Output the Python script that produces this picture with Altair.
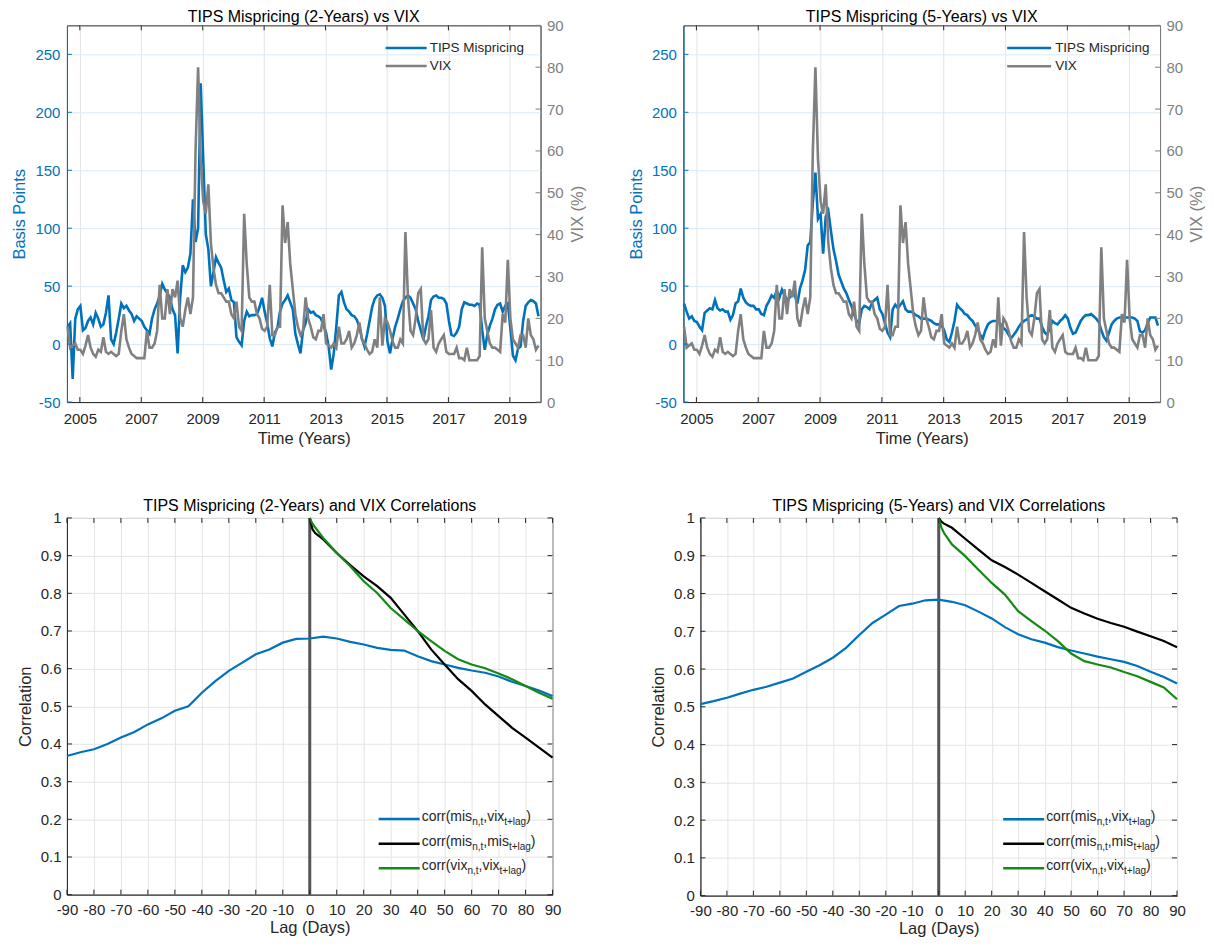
import altair as alt
import pandas as pd

FONT = "Liberation Sans"
BLUE = "#0072BD"
GRAY = "#808080"
BLACK = "#000000"
GREEN = "#148a14"
AXC = "#262626"
ZERO_LINE = "#555555"
GRID_GRAY = "#e4e4e4"
GRID_BLUE = "#d9eaf5"
TICK = 5

# ---------------- time series (monthly samples) ----------------
START_YEAR = 2004.6
YEAR_TICKS = [2005, 2007, 2009, 2011, 2013, 2015, 2017, 2019]
BP_TICKS = [-50, 0, 50, 100, 150, 200, 250]
VIX_TICKS = [0, 10, 20, 30, 40, 50, 60, 70, 80, 90]

MIS_2Y = [
    15, 18, -30, 22, 30,                                   # 2004 Aug-Dec
    33, 12, 14, 20, 23, 17, 27, 22, 15, 17, 27, 42,        # 2005
    4, 0, 10, 22, 35, 31, 33, 29, 26, 20, 24, 22,          # 2006
    20, 15, 12, 9, 22, 30, 35, 42, 52, 47, 44, 40,         # 2007
    30, 25, -8, 40, 68, 62, 66, 78, 125, 88, 100, 225,     # 2008
    160, 95, 82, 50, 62, 75, 70, 66, 55, 45, 48, 38,       # 2009
    36, 6, 2, -1, 20, 28, 24, 25, 25, 26, 32, 40,          # 2010
    28, 18, 5, -2, 10, 14, 28, 35, 38, 42, 36, 30,         # 2011
    9, 0, -8, 12, 18, 30, 27, 28, 25, 24, 22, 16,          # 2012
    10, -2, -22, -8, 15, 42, 45, 36, 30, 28, 25, 24,       # 2013
    21, 15, 5, -2, 8, 20, 32, 39, 42, 43, 40, 33,          # 2014
    2, -8, 5, 15, 22, 30, 37, 40, 42, 40, 35, 30,          # 2015
    20, 12, 4, 15, 24, 38, 41, 42, 40, 40, 39, 35,         # 2016
    20, 8, 7, 10, 15, 30, 36, 35, 34, 34, 33, 35,          # 2017
    34, 12, -5, 8, 16, 22, 30, 34, 35, 28, 33, 35,         # 2018
    14, -10, -14, -4, -2, 20, 33, 36, 38, 37, 35, 24,      # 2019
]

MIS_5Y = [
    35, 28, 22, 24, 20,                                    # 2004 Aug-Dec
    19, 15, 12, 27, 29, 31, 30, 38, 31, 29, 30, 28,        # 2005
    28, 21, 25, 35, 37, 48, 40, 36, 34, 33, 33, 30,        # 2006
    30, 26, 25, 33, 37, 42, 40, 46, 40, 47, 42, 38,        # 2007
    40, 44, 42, 35, 48, 55, 64, 85, 88, 122, 148, 108,     # 2008
    112, 78, 110, 115, 98, 82, 72, 60, 54, 48, 44, 38,     # 2009
    33, 26, 20, 18, 30, 33, 32, 30, 36, 38, 40, 30,        # 2010
    26, 18, 10, 6, 30, 34, 31, 34, 37, 30, 28, 28,         # 2011
    27, 25, 24, 22, 22, 22, 21, 20, 18, 17, 17, 16,        # 2012
    12, 4, 2, 10, 20, 34, 31, 29, 26, 25, 22, 20,          # 2013
    16, 13, 8, 5, 12, 17, 19, 20, 20, 19, 17, 14,          # 2014
    12, 8, 5, 8, 11, 15, 18, 20, 21, 24, 25, 24,           # 2015
    22, 22, 15, 10, 8, 14, 20, 18, 17, 20, 22, 25,         # 2016
    22, 14, 9, 10, 15, 20, 23, 25, 25, 26, 24, 22,         # 2017
    19, 12, 6, 3, 10, 17, 20, 22, 23, 23, 23, 23,          # 2018
    23, 23, 22, 20, 11, 10, 12, 18, 23, 23, 23, 16,        # 2019
]

VIX = [
    18, 13, 13.5, 14, 12.5,                                        # 2004 Aug-Dec
    12.5, 11.5, 13.5, 16, 13, 11.5, 10.8, 12.5, 12, 15.5, 12, 11.5,  # 2005
    12, 11.5, 11, 11.5, 17, 21, 15, 13, 11.5, 11, 10.5, 10.5,      # 2006
    10.5, 10.5, 17, 13, 13, 14, 17, 28, 20, 20, 27, 21,            # 2007
    27, 25, 29, 20, 18, 22, 25, 21, 25, 60, 80, 58,                # 2008
    48, 45, 52, 38, 32, 28, 26, 26, 25, 24, 24, 21,                # 2009
    20, 24, 18, 17, 45, 33, 25, 24, 24, 21, 20, 17.5,              # 2010
    17, 18, 28, 16, 16, 18, 18, 47, 38, 43, 33, 27,                # 2011
    21, 18, 16, 17, 25, 20, 18, 15.5, 15, 17, 17, 21,              # 2012
    14, 13.5, 13, 14, 13, 18, 14, 14, 15, 17, 13, 14,              # 2013
    16, 19, 15, 14, 12.5, 11.5, 12, 15, 13, 25, 13.5, 20,          # 2014
    19, 17, 14.5, 13, 13, 15, 14, 40.6, 25, 17, 16, 20,            # 2015
    26, 27, 15, 14, 15, 22, 13, 12, 14, 15, 16, 12,                # 2016
    11.5, 11.5, 11.5, 13, 10.5, 10.5, 10, 13, 10, 10, 10, 10,      # 2017
    11, 37, 20, 17, 14, 13, 13, 12.5, 12, 21, 19, 34,              # 2018
    20, 15, 14, 13, 16, 16, 13, 20, 16, 15, 12.5, 13.5,            # 2019
]

T = [round(START_YEAR + i / 12.0, 4) for i in range(len(VIX))]

# ---------------- correlations ----------------
LAGS_ALL = [-90, -85, -80, -75, -70, -65, -60, -55, -50, -45, -40, -35, -30, -25, -20, -15, -10, -5,
            0, 5, 10, 15, 20, 25, 30, 35, 40, 45, 50, 55, 60, 65, 70, 75, 80, 85, 90]
LAGS_POS = [0, 1, 2, 5, 10, 15, 20, 25, 30, 35, 40, 45, 50, 55, 60, 65, 70, 75, 80, 85, 90]
LAG_TICKS = [-90, -80, -70, -60, -50, -40, -30, -20, -10, 0, 10, 20, 30, 40, 50, 60, 70, 80, 90]
CORR_TICKS = [0, 0.1, 0.2, 0.3, 0.4, 0.5, 0.6, 0.7, 0.8, 0.9, 1]

C2_MIS_VIX = [0.368, 0.378, 0.386, 0.400, 0.417, 0.432, 0.452, 0.468, 0.488, 0.500, 0.536, 0.567, 0.594,
              0.616, 0.638, 0.651, 0.669, 0.679, 0.680, 0.685, 0.680, 0.671, 0.664, 0.655, 0.650, 0.648,
              0.633, 0.620, 0.611, 0.602, 0.595, 0.589, 0.579, 0.565, 0.554, 0.542, 0.527]
C2_MIS_MIS = [1.0, 0.97, 0.96, 0.943, 0.907, 0.875, 0.845, 0.819, 0.788, 0.744, 0.700, 0.651, 0.611,
              0.572, 0.541, 0.505, 0.474, 0.443, 0.417, 0.390, 0.364]
C2_VIX_VIX = [1.0, 0.985, 0.975, 0.947, 0.907, 0.872, 0.832, 0.801, 0.761, 0.731, 0.700, 0.673, 0.647,
              0.625, 0.611, 0.601, 0.587, 0.572, 0.554, 0.536, 0.520]

C5_MIS_VIX = [0.507, 0.515, 0.524, 0.535, 0.545, 0.553, 0.564, 0.575, 0.593, 0.610, 0.630, 0.656, 0.690,
              0.722, 0.744, 0.767, 0.773, 0.782, 0.784, 0.778, 0.769, 0.752, 0.734, 0.711, 0.692, 0.679,
              0.670, 0.658, 0.649, 0.641, 0.633, 0.626, 0.619, 0.608, 0.593, 0.579, 0.562]
C5_MIS_MIS = [1.0, 0.99, 0.985, 0.974, 0.945, 0.916, 0.888, 0.870, 0.850, 0.828, 0.806, 0.784, 0.762,
              0.747, 0.733, 0.722, 0.712, 0.699, 0.687, 0.674, 0.658]
C5_VIX_VIX = [1.0, 0.975, 0.96, 0.93, 0.899, 0.863, 0.828, 0.797, 0.753, 0.727, 0.702, 0.674, 0.641,
              0.621, 0.612, 0.604, 0.592, 0.581, 0.566, 0.551, 0.520]

# ---------------- helpers ----------------
ONE = pd.DataFrame({"k": [0]})
CW = {'c': .5, 'o': .556, 'r': .333, '(': .333, ')': .333, 'm': .833, 'i': .222, 's': .5, 'n': .556,
      ',': .278, 't': .278, 'v': .5, 'x': .5, '+': .584, 'l': .222, 'a': .556, 'g': .556}
FS_M = 14
FS_S = 10
LBL = 15
TTL = 16.5
NUM_EXPR = "toString(datum.value)"


def tw(s, fs):
    return sum(CW.get(ch, .556) for ch in s) * fs


def txt(s, x, y, fs, color=AXC):
    return alt.Chart(ONE).mark_text(text=s, align="left", baseline="middle", fontSize=fs,
                                    font=FONT, color=color).encode(x=alt.value(x), y=alt.value(y))


def seg(x1, x2, y, color, width=2.5):
    return alt.Chart(ONE).mark_rule(color=color, strokeWidth=width).encode(
        x=alt.value(x1), x2=alt.value(x2), y=alt.value(y))


def ghost(x):
    # invisible mark that only widens the panel's bounding box to the left
    return alt.Chart(ONE).mark_rule(color="white", strokeOpacity=0, strokeWidth=1).encode(
        x=alt.value(x), x2=alt.value(x + 1), y=alt.value(100))


def xticks(df, xenc, h, color=AXC):
    # inward tick marks on the bottom and top edges, placed through the shared x scale
    bot = alt.Chart(df).mark_rule(color=color, strokeWidth=1).encode(
        x=xenc, y=alt.value(h), y2=alt.value(h - TICK))
    top = alt.Chart(df).mark_rule(color=color, strokeWidth=1).encode(
        x=xenc, y=alt.value(0), y2=alt.value(TICK))
    return [bot, top]


def yticks(df, yenc, x0, x1, color=AXC):
    return [alt.Chart(df).mark_rule(color=color, strokeWidth=1).encode(
        y=yenc, x=alt.value(x0), x2=alt.value(x1))]


def rich(x0, y0, parts):
    layers = []
    x = x0
    for s, sub in parts:
        fs = FS_S if sub else FS_M
        layers.append(txt(s, x, y0 + (5 if sub else 0), fs))
        x += tw(s, fs)
    return layers


def title(s, off, dy):
    return alt.TitleParams(text=s, fontSize=16, fontWeight="normal", font=FONT, color="#000000",
                           anchor="middle", offset=off, frame="group", dy=dy)


def top_panel(mis, ttl, w, h, lx1, lx2, ltx, ly1, ly2):
    df = pd.DataFrame({"t": T, "mis": mis, "vix": VIX})
    sx = alt.Scale(domain=[2004.58, 2020.0], nice=False, zero=False)
    sy1 = alt.Scale(domain=[-50, 275], nice=False, zero=False)
    sy2 = alt.Scale(domain=[0, 90], nice=False, zero=False)
    xenc = alt.X("t:Q", scale=sx,
                 axis=alt.Axis(values=YEAR_TICKS, format="d", title="Time (Years)", grid=True,
                               gridColor=GRID_GRAY, labelPadding=9, titlePadding=4,
                               labelFlush=False, labelOverlap=False))
    blue = alt.Chart(df).mark_line(color=BLUE, strokeWidth=2.6).encode(
        x=xenc,
        y=alt.Y("mis:Q", scale=sy1,
                axis=alt.Axis(values=BP_TICKS, labelExpr=NUM_EXPR, title="Basis Points", grid=True,
                              gridColor=GRID_BLUE, labelColor=BLUE, titleColor=BLUE, domainColor=BLUE,
                              labelPadding=7, titlePadding=7)))
    gray = alt.Chart(df).mark_line(color=GRAY, strokeWidth=2.6).encode(
        x=xenc,
        y=alt.Y("vix:Q", scale=sy2,
                axis=alt.Axis(orient="right", values=VIX_TICKS, title="VIX (%)", grid=False,
                              labelColor=GRAY, titleColor=GRAY, domainColor=GRAY,
                              labelPadding=6, titlePadding=6, titleAngle=270, titleBaseline="top")))
    # x ticks share the x scale (same axis definition so the merged axis is kept);
    # y ticks use their own independent scales with identical domains and no axis
    ticks = xticks(pd.DataFrame({"t": YEAR_TICKS}), xenc, h)
    ticks += yticks(pd.DataFrame({"mis": BP_TICKS}), alt.Y("mis:Q", scale=sy1, axis=None), 0, TICK, BLUE)
    ticks += yticks(pd.DataFrame({"vix": VIX_TICKS}), alt.Y("vix:Q", scale=sy2, axis=None),
                    w - TICK, w, GRAY)
    leg = [seg(lx1, lx2, ly1, BLUE), seg(lx1, lx2, ly2, GRAY),
           txt("TIPS Mispricing", ltx, ly1, 13.5), txt("VIX", ltx, ly2, 13.5)]
    return alt.layer(blue, gray, *ticks, *leg).resolve_scale(y="independent").properties(
        width=w, height=h, title=title(ttl, 2, 9))


def bottom_panel(cb, ck, cg, ttl, w, h, lx1, lx2, ltx, rows, extra_left=None):
    d1 = pd.DataFrame({"lag": LAGS_ALL, "corr": cb})
    d2 = pd.DataFrame({"lag": LAGS_POS, "corr": ck})
    d3 = pd.DataFrame({"lag": LAGS_POS, "corr": cg})
    d0 = pd.DataFrame({"lag": [0]})
    sx = alt.Scale(domain=[-90, 90], nice=False, zero=False)
    sy = alt.Scale(domain=[0, 1], nice=False, zero=False)
    x = alt.X("lag:Q", scale=sx,
              axis=alt.Axis(values=LAG_TICKS, labelExpr=NUM_EXPR, title="Lag (Days)", grid=True,
                            labelPadding=8, titlePadding=2, labelFlush=False, labelOverlap=False))
    y = alt.Y("corr:Q", scale=sy,
              axis=alt.Axis(values=CORR_TICKS, format="~g", title="Correlation", grid=True,
                            labelPadding=6, titlePadding=7, labelOverlap=False))
    rule = alt.Chart(d0).mark_rule(color=ZERO_LINE, strokeWidth=3).encode(x=x)
    lb = alt.Chart(d1).mark_line(color=BLUE, strokeWidth=2.2).encode(x=x, y=y)
    lk = alt.Chart(d2).mark_line(color=BLACK, strokeWidth=2.2).encode(x=x, y=y)
    lg = alt.Chart(d3).mark_line(color=GREEN, strokeWidth=2.2).encode(x=x, y=y)
    ticks = xticks(pd.DataFrame({"lag": LAG_TICKS}), x, h)
    ticks += yticks(pd.DataFrame({"corr": CORR_TICKS}), y, 0, TICK)
    ticks += yticks(pd.DataFrame({"corr": CORR_TICKS}), y, w - TICK, w)
    leg = [seg(lx1, lx2, rows[0], BLUE), seg(lx1, lx2, rows[1], BLACK), seg(lx1, lx2, rows[2], GREEN)]
    leg += rich(ltx, rows[0] - 2, [("corr(mis", 0), ("n,t", 1), (",vix", 0), ("t+lag", 1), (")", 0)])
    leg += rich(ltx, rows[1] - 2, [("corr(mis", 0), ("n,t", 1), (",mis", 0), ("t+lag", 1), (")", 0)])
    leg += rich(ltx, rows[2] - 2, [("corr(vix", 0), ("n,t", 1), (",vix", 0), ("t+lag", 1), (")", 0)])
    if extra_left is not None:
        leg.append(ghost(extra_left))
    return alt.layer(rule, lb, lk, lg, *ticks, *leg).properties(width=w, height=h,
                                                                  title=title(ttl, 4, 7))


tl = top_panel(MIS_2Y, "TIPS Mispricing (2-Years) vs VIX", 474, 377, 319, 360, 363, 22.7, 40.7)
tr = top_panel(MIS_5Y, "TIPS Mispricing (5-Years) vs VIX", 477, 377, 324, 368, 372, 22.6, 41)
bl = bottom_panel(C2_MIS_VIX, C2_MIS_MIS, C2_VIX_VIX, "TIPS Mispricing (2-Years) and VIX Correlations",
                  486, 377, 312, 353, 355, [301.3, 326, 350.7], extra_left=-58)
br = bottom_panel(C5_MIS_VIX, C5_MIS_MIS, C5_VIX_VIX, "TIPS Mispricing (5-Years) and VIX Correlations",
                  477, 378, 303, 344, 346, [301.6, 326, 350.6])

row1 = alt.hconcat(tl, tr, spacing=41)
row2 = alt.hconcat(bl, br, spacing=88)

chart = alt.vconcat(row1, row2, spacing=50).properties(padding=0).configure(
    font=FONT).configure_axis(
    labelFont=FONT, titleFont=FONT, labelFontSize=LBL, titleFontSize=TTL, titleFontWeight="normal",
    labelColor=AXC, titleColor=AXC, domainColor=AXC, ticks=False, tickSize=0,
    gridColor=GRID_GRAY, gridWidth=1).configure_view(stroke=AXC, strokeWidth=1).configure_title(
    font=FONT, fontWeight="normal", fontSize=16, color="#000000")

chart.save("out.html", embed_options={"renderer": "svg", "actions": False})
